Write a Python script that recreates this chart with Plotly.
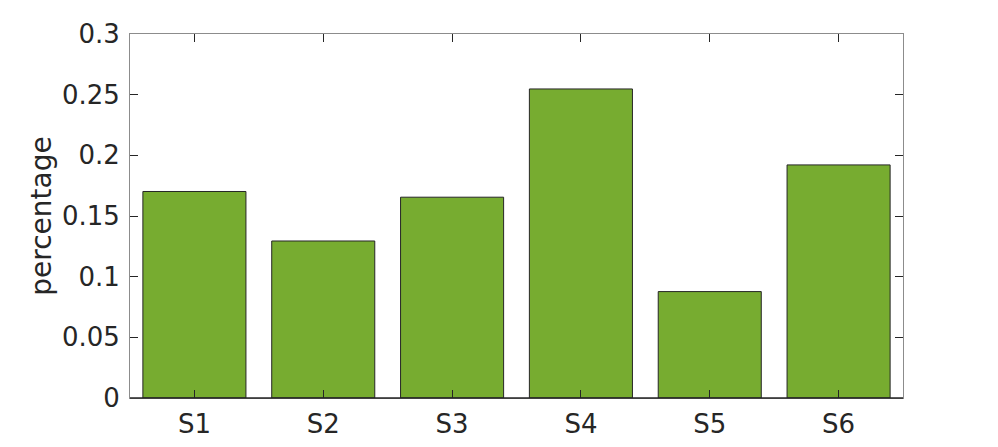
import plotly.graph_objects as go

# data
categories = ['S1', 'S2', 'S3', 'S4', 'S5', 'S6']
percentage = [0.1702, 0.1294, 0.1655, 0.2547, 0.0877, 0.1921]
y_ticks = [0, 0.05, 0.1, 0.15, 0.2, 0.25, 0.3]
y_tick_labels = ['0', '0.05', '0.1', '0.15', '0.2', '0.25', '0.3']

text_color = '#262626'
frame_color = '#8c8c8c'

fig = go.Figure(go.Bar(x=categories, y=percentage, width=0.8,
                       marker=dict(color='#77AC30', line=dict(color='#262626', width=1))))

# page body adds 8px, so margins are shifted back by that
fig.update_layout(width=998, height=447, plot_bgcolor='white', paper_bgcolor='white',
                  margin=dict(l=122, r=103, t=26, b=57), showlegend=False,
                  font=dict(family='DejaVu Sans', size=26, color=text_color))

fig.update_xaxes(range=[-0.5, 5.5], showline=True, linecolor=frame_color, linewidth=1,
                 mirror='ticks', ticks='inside', ticklen=8, tickcolor=text_color,
                 showgrid=False, zeroline=False, ticklabelstandoff=3)
fig.update_yaxes(range=[0, 0.3], tickvals=y_ticks, ticktext=y_tick_labels,
                 showline=True, linecolor=frame_color, linewidth=1,
                 mirror='ticks', ticks='inside', ticklen=8, tickcolor=text_color,
                 showgrid=False, zeroline=False, ticklabelstandoff=4,
                 title=dict(text='percentage', font=dict(size=28), standoff=2))

# dark baseline under the bars
fig.add_shape(type='line', xref='paper', yref='paper', x0=0, x1=1, y0=0, y1=0,
              line=dict(color=text_color, width=1.5))

fig.write_html("out.html")
